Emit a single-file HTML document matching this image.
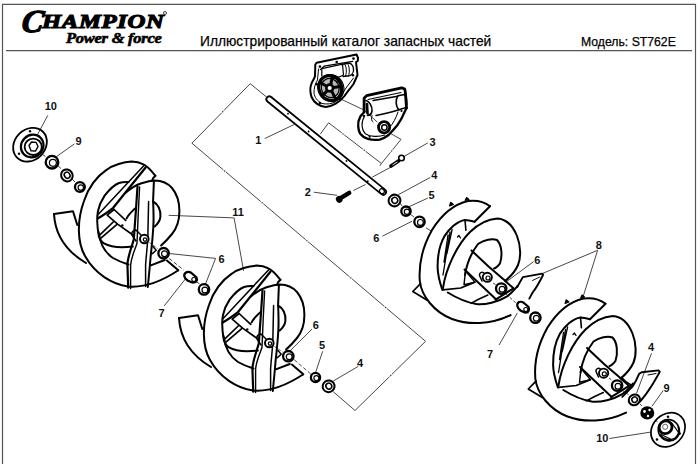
<!DOCTYPE html>
<html><head><meta charset="utf-8">
<style>
html,body{margin:0;padding:0;background:#fff;width:700px;height:464px;overflow:hidden}
svg{position:absolute;left:0;top:0;display:block}
</style></head>
<body>

<div style="position:absolute;left:0;top:0;width:700px;height:60px;font-family:'Liberation Sans',sans-serif;">
  <div id="logoC" style="position:absolute;left:20px;top:4.5px;-webkit-text-stroke:1.3px #000;font-family:'Liberation Serif',serif;font-weight:bold;font-style:italic;font-size:32px;line-height:32px;color:#000;transform-origin:0 100%;transform:skewX(-8deg)">C</div>
  <div id="logoH" style="position:absolute;left:42px;top:11.5px;-webkit-text-stroke:1.1px #000;font-family:'Liberation Serif',serif;font-weight:bold;font-style:italic;font-size:19px;line-height:19px;color:#000;transform-origin:0 0;transform:scaleX(1.30);letter-spacing:0.5px">HAMPION</div>
  <div style="position:absolute;left:163px;top:11px;width:4px;height:4px;border-radius:50%;border:0.8px solid #444;box-sizing:border-box"></div>
  <div id="logoP" style="position:absolute;left:66px;top:31.5px;-webkit-text-stroke:0.6px #000;font-family:'Liberation Serif',serif;font-weight:bold;font-style:italic;font-size:14px;line-height:14px;color:#000;transform-origin:0 0;transform:scaleX(1.175);letter-spacing:-0.2px">Power &amp; force</div>
  <div id="title" style="position:absolute;left:200px;top:33px;-webkit-text-stroke:0.25px #000;font-size:14.5px;line-height:16px;color:#000;transform-origin:0 0;transform:scaleX(0.95);white-space:nowrap">Иллюстрированный каталог запасных частей</div>
  <div id="model" style="position:absolute;left:581px;top:35px;-webkit-text-stroke:0.25px #000;font-size:13px;line-height:14px;color:#000;transform-origin:0 0;transform:scaleX(0.94);white-space:nowrap">Модель: ST762E</div>
</div>
<svg width="700" height="464" viewBox="0 0 700 464">
<defs>
<g id="aug11" fill="none" stroke="#000" stroke-width="2" stroke-linecap="round" stroke-linejoin="round">
  <!-- back flight -->
  <path d="M54,214 L73,211.3 L77.3,225"/>
  <path d="M54,214 C55,232 64,250 86,263"/>
  <!-- main ring outer -->
  <path d="M155.4,175.8 C151,170 147,166 143.4,164.3 C139,162 135,161.6 131.6,161.6 C124,162 113,165 106.8,169.7 C96,177 88,189 84,201 C77,220 77,242 85,256 C95,274 112,284 128,286.5 C145,288 162,281 178,270.5"/>
  <!-- tip -->
  <path d="M155.4,175.8 L153,178.3 L152,181"/>
  <!-- hole edge -->
  <path d="M128.5,182 C125,181.8 122,182 119,183 C114,185 109,190 104.6,195.6 C101,201 99,206 98,211 C97,216 96.8,224 98.6,234.5 C99.5,239 101.5,242 104,243.4 C112,248 124,247.5 132.8,246.5"/>
  <!-- lower band curve -->
  <path d="M98.5,232 C100,244 104,252 113,258 C120,262 127,264 128.5,264.5"/>
  <path d="M150.8,265.4 L164.8,260"/>
  <!-- cut at lower right -->
  <path d="M166.9,260.6 L178.3,270.3"/>
  <!-- blade -->
  <path d="M144,165.4 L97.7,215" stroke-width="1.5"/>
  <path d="M145.6,167.5 L113.2,207.8 C110,210.5 107,212.9 97.7,218.5" stroke-width="2.2"/>
  <!-- front flight outer -->
  <path d="M125.5,192.8 C131,188 136,185 141.5,183.2 C146,181.8 151,180.6 154.7,180.4 C161,180.5 167,182 172,188 C177,194 179.4,203 179.4,211 C179.4,220 177,228 172,234 C168,239 165,242 161.1,245.5"/>
  <!-- heart opening -->
  <path d="M153,201.5 C158,204 161,210 160.4,216.8 C160,221 157.5,224 154.7,226.5"/>
  <path d="M126.6,218.5 C128,215 130.5,212.9 134.8,208.6"/>
  <path d="M152.9,246.6 L156.2,250.3 L152.4,253.6" stroke-width="1.5"/>
  <!-- spoke bar -->
  <path d="M114.1,209.5 L125.7,220.3 M114.1,209.5 L107.2,215.1 L117.6,224.1 L132.2,234.5" stroke-width="1.7"/>
  <path d="M98.6,236.2 L113.2,222 M101.2,237.9 L116.7,224.6" stroke-width="1.7"/>
  <circle cx="122.3" cy="225.4" r="1.2" fill="#000" stroke="none"/>
  <!-- paddle -->
  <path d="M137.5,186.5 L136,209 L133.8,239.2 C132,247 129,252 127.4,263.5 L128.2,287.7" stroke-width="2.2"/>
  <path d="M139.6,187 L138.2,215 L137,243.3 C135,250 131.5,256 130.6,265.1 L130.6,288.5" stroke-width="1.4"/>
  <path d="M153.9,181.2 L153.1,200.7 C153.5,210 153.8,218 153.4,225 C152.8,238 151.5,248 150.5,258 C149.5,270 148.5,280 147.8,287"/>
  <path d="M148.6,201.5 C148.3,215 148,228 147.8,238.8 C147,250 146,258 145.6,265 L145.6,286.5" stroke-width="1.5"/>
  <!-- stub -->
  <path d="M141,235 L137,231 C135,229 131,231 132,235 L136,241" stroke-width="1.5"/>
  <circle cx="144.3" cy="239" r="4.3" fill="#fff"/>
  <circle cx="145" cy="239.6" r="1.7" stroke-width="1.2"/>
</g>
<g id="aug8" fill="none" stroke="#000" stroke-width="2" stroke-linecap="round" stroke-linejoin="round">
  <!-- back flight outer -->
  <path d="M490,206.2 C484,201.5 476,200 468,201 C455,204 442,214 432,230 C423,246 418.5,264 419.8,281 C421.5,296 434,312 452,319 C468,325 490,325 510.6,315.1"/>
  <!-- back flight cut -->
  <path d="M490,206.2 L474.5,221.7"/>
  <!-- back flight inner -->
  <path d="M474.5,221.7 C470,220.5 466,220 465,220 C457,221 449,229 444.3,236.4 C440,244 437.5,256 437.6,267.4 C437.8,276 440,283 442.4,290"/>
  <!-- teeth -->
  <path d="M449.6,206 L450.6,202.3 L453.4,204.5 Z M465.2,200.3 L466.6,197.6 L469,199.4 Z" stroke-width="1.2" fill="#000"/>
  <path d="M420.5,283.6 L412.8,291.5 L426.8,300" stroke-width="1.7"/>
  <!-- front flight outer -->
  <path d="M443,288 C446,268 457,245 470,232 C478,224 488,219 497.4,218.4 C506,219 513,226 517,236 C521,246 521,258 518,265 C515,272 510,277 505,281"/>
  <!-- front flight left edge and bottom -->

  <!-- front flight inner hole -->
  <path d="M465,275 C467,262 471.9,252 478,244 C484,240 492,238 497,240 C502,245 502.5,256 500,263.3 C498,266 496,268 494,268.4"/>
  <!-- inner hatches -->
  <path d="M465,220 L465.9,230.3" stroke-width="1.6"/>
  <path d="M452.1,229.5 L446.9,253.6 M448,235 L444,262 M450,232 L443,275" stroke-width="1.3"/>
  <path d="M457.5,237 L459,235.5 L460.5,238" stroke-width="1.3"/>
  <!-- paddle bar -->
  <path d="M471.5,250.5 L488.8,266.7 L504.6,280.2 L507.2,282.8 L513.5,288.3 L495.6,299.6"/>
  <path d="M464.5,269.5 L496.2,299.6"/>
  <path d="M465.5,271 L464,284.7 L474.9,282.1 Z" stroke-width="1.4"/>
  <path d="M443,289.9 L460.7,288 L474.9,282.1" stroke-width="1.7"/>
  <!-- lower inner curve -->
  <path d="M447.8,292.5 C455,297 465,302 476.2,304.1 C485,305 498,302 507.2,296.3 C512,293 515,289 517.5,286"/>
  <path d="M471,303.4 C475,301 482,297.5 487.8,295" stroke-width="1.6"/>
</g>
</defs>

<!-- frame -->
<path d="M2.5,464 L2.5,4.3 L695.5,4.3 L695.5,464" fill="none" stroke="#555" stroke-width="1.2"/>
<line x1="6" y1="50.6" x2="692" y2="50.6" stroke="#555" stroke-width="1.2"/>


<!-- leaders & dashed lines -->
<g fill="none" stroke="#333" stroke-width="0.9">
  <!-- big bracket -->
  <path d="M268.2,98.3 L250.2,83.7 M250.2,83.7 L223.8,110.6 M221.6,112.9 L191.9,143.2 M191.9,143.2 L223.4,169.9 M225.8,171.9 L260.8,201.6 M263.3,203.7 L305.7,239.7 M308.1,241.7 L349.7,276.9 M352.1,279.0 L384.4,306.4 M386.8,308.4 L425.6,341.3 M425.6,341.3 L391.8,374.4 M389.6,376.6 L355.0,410.5 M355.0,410.5 L333.3,391.7 M320.3,134.1 L328.6,122.8 M328.6,122.8 L341.8,132.9 M344.3,134.9 L363.0,149.3 M365.6,151.3 L381.4,163.5 M381.4,163.5 L390.6,152.2 M392.6,149.8 L401.0,139.4 M401.0,139.4 L390.4,133.4"/>
  <g fill="#333" stroke="none"><circle cx="222.7" cy="111.8" r="0.75"/><circle cx="224.6" cy="170.9" r="0.75"/><circle cx="262.1" cy="202.7" r="0.75"/><circle cx="306.9" cy="240.7" r="0.75"/><circle cx="350.9" cy="278.0" r="0.75"/><circle cx="385.6" cy="307.4" r="0.75"/><circle cx="390.7" cy="375.5" r="0.75"/><circle cx="343.0" cy="133.9" r="0.75"/><circle cx="364.3" cy="150.3" r="0.75"/><circle cx="391.6" cy="151.0" r="0.75"/></g>
  <!-- small bracket -->

  <path d="M381.4,163.5 L379.9,165.8"/>
  <!-- gearbox connectors -->
  <path d="M340,98.7 L364,110 L377.4,122.2"/>
  <!-- pin3 axis -->
  <path d="M391.9,166.6 L372.3,177.1"/>
  <path d="M353.4,190.5 L365.5,184.5"/>
  <!-- leaders -->
  <path d="M47.8,115.4 L37.7,134.2"/>
  <path d="M74.4,143.9 L56,157"/>
  <path d="M264.7,138.6 L294.4,124.4"/>
  <path d="M313.8,192.2 L337.1,195.3"/>
  <path d="M427.8,142.9 L403.6,156.7"/>
  <path d="M430.3,177.4 L398.4,194.7"/>
  <path d="M427.8,198.1 L407.1,207.6"/>
  <path d="M382.4,236.2 L412.1,221.2"/>
  <path d="M168.6,215.3 L234.1,217.9 L243.6,270.9"/>
  <path d="M170,253.6 L215.6,258.4 L204.9,285.5"/>
  <path d="M164.2,305.9 L185.5,278.8"/>
  <path d="M312,329 L289.5,351.4"/>
  <path d="M322.6,351.4 L315.5,372.8"/>
  <path d="M358.2,366.4 L333.3,381"/>
  <path d="M533.6,261.6 L506.9,281.4"/>
  <path d="M542.2,273.6 L597.6,250.3 L582.9,297.4"/>
  <path d="M499.1,345 L517.4,312.9"/>
  <path d="M651.5,353.3 L636.5,393.3"/>
  <path d="M663.1,390.7 L652,406.2"/>
  <path d="M609.4,438.5 L650.7,432.1"/>
  <!-- axis dashes -->
  <path d="M42.3,154.5 L45.5,156.4 M57,165 L61,168.5 M72,179 L75,182" />
  <path d="M169.1,258.4 L183.6,270 M196.2,281.7 L200.1,284.2" stroke-dasharray="4 2"/>
  <path d="M149.5,242.5 L157.5,248.5 M274.5,346.5 L282.5,352" stroke-dasharray="3 1.5"/>
  <path d="M294.2,359.7 L310.8,374" stroke-dasharray="4 2"/>
  <path d="M400,203 L402,206 M410,214 L414,217 M426,227.8 L431,231"/>
  <path d="M493,283 L497,285.5 M506,294 L516,303 M526,312 L531,314.5" stroke-dasharray="3 2"/>
  <path d="M609,378 L613,381 M622,390 L629,395 M640,404 L642,406 M655,420 L658,422" stroke-dasharray="3 2"/>
</g>


<!-- gearbox half 1 -->
<g fill="none" stroke="#000" stroke-linejoin="round" stroke-linecap="round">
  <path d="M316.6,62.8 L356.5,54.5 L358,57.8 L357.8,61 L356,62 L357.5,75 L353.5,84 C350,89 347,92 344.5,96 C340,102 332,106.5 325.7,106.9 C320,106.5 314,103 311.5,97 C310,92 310,88 311,85 C312,81 314.5,79 315,76 L315.3,64.5 Z" stroke-width="2"/>
  <path d="M320.3,69.6 L324.1,66.2 L352.7,61.3" stroke-width="1.2"/>
  <path d="M353.5,78 L346,88 C343,93 340,98 336,101.5 C332,104 327,104.5 322,103.5 C317,101 314.5,97 314,93 C314,88 315,84 317.5,80 L318.5,69" stroke-width="1"/>
  <path d="M321.8,76 L321.8,68.6 L342.5,64.2 L343.5,75 C340,77 333,79 326,80" stroke-width="1.2"/>
  <path d="M341.5,64.5 L349,63 C352,63.5 354,67 353.5,71 C353,74 350,76 347,76 L343,76.5" stroke-width="1.3"/>
  <path d="M344.5,64 C346.5,66 347,72 345.5,76 M347.5,63.5 C349.5,66 350,72 348.5,76" stroke-width="1"/>
  <ellipse cx="330.2" cy="88" rx="11.3" ry="12.6" transform="rotate(-25 330.2 88)" stroke-width="3.2"/>
  <ellipse cx="331.0" cy="88.5" rx="12.6" ry="13.6" transform="rotate(-25 330.2 88)" stroke-width="1.1"/>
  <ellipse cx="330.2" cy="88" rx="8.8" ry="9.8" transform="rotate(-25 330.2 88)" stroke-width="1.3" fill="#b8b8b8"/>
  <path d="M330.8,84.8 L332.0,77.7 M333.4,87.6 L340.6,86.5 M331.6,90.9 L334.8,97.4 M327.9,90.2 L322.6,95.3 M327.4,86.5 L320.9,83.1 " stroke-width="3"/>
  <circle cx="329.7" cy="88" r="3.4" stroke-width="2.6" fill="#fff"/>
  <g fill="#000" stroke="none">
    <circle cx="319.9" cy="66.6" r="1.3"/><circle cx="336.7" cy="62" r="1.3"/><circle cx="353.5" cy="58.6" r="1.3"/>
    <circle cx="352.9" cy="75.2" r="1.3"/><circle cx="339.9" cy="98.5" r="1.4"/><circle cx="319.9" cy="103" r="1.3"/><circle cx="316.6" cy="84.3" r="1.3"/>
  </g>
</g>
<!-- gearbox half 2 -->
<g fill="none" stroke="#000" stroke-linejoin="round" stroke-linecap="round">
  <path d="M364.1,112 L364.1,98.2 L366.6,95.6 L401.6,87.8 L404.8,89.1 L405.5,93.6 L406.5,108" stroke-width="2.8"/>
  <path d="M368,99.5 L401,92.5" stroke-width="1.1"/>
  <path d="M373.1,100.5 L397.7,96.2" stroke-width="1.5"/>
  <path d="M376,115.5 C382,114.5 390,112.5 399,109.8" stroke-width="1.5"/>
  <path d="M397.7,96.2 C395.5,99 395.5,107 399,109.8 M398,95.8 L404.5,94.5 C406.5,96 407.5,103 406,107.5 L399,109.8" stroke-width="1.6"/>
  <path d="M366,100.5 C369,101 372.5,106 372,111 C371.5,114 370,115.5 367.5,115.5" stroke-width="1.6"/>
  <path d="M367,104 L367.5,113.5" stroke-width="2.6"/>
  <path d="M364.1,112 C363,114 361,115 360.2,116.9 C358.5,120 357.8,123 358.2,126 C358.5,130 359,132 360.2,133.7 C362,136 365,138 367.9,138.9 C372,140 376,140 379.6,139.6 C384,138.5 386,137 388.6,135 C392,131.5 395,128 397.7,124.7 C400,121 402,118 402.9,115.6 L406.5,108" stroke-width="2.3"/>
  <path d="M364.7,115.6 C363,119 362,122 362.1,124.7 C362,129 363,131 365.3,133.7 C368,135.5 371,136.3 374.4,136.3 C379,136.5 382,136 384.8,135" stroke-width="1.2"/>
  <path d="M372,115.5 C371,119 371.5,121 373,122 M398,112 C396,118 393,124 389,128" stroke-width="1"/>
  <circle cx="384.1" cy="127.3" r="5.6" stroke-width="2.8"/>
  <circle cx="384.4" cy="127.5" r="2.7" stroke-width="1.5"/>
  <circle cx="363.8" cy="116" r="1.1" fill="#000" stroke="none"/>
  <circle cx="369.6" cy="136.8" r="1.1" fill="#000" stroke="none"/>
  <circle cx="401.5" cy="111" r="1.1" fill="#000" stroke="none"/>
</g>

<!-- shaft -->
<g fill="none" stroke="#000" stroke-linecap="round">
  <path d="M269.3,99.3 L383.2,191.9" stroke-width="7.6"/>
  <path d="M269.3,99.3 L383.2,191.9" stroke="#fff" stroke-width="4"/>
  <circle cx="288" cy="113.7" r="0.9" fill="#000" stroke="none"/>
  <circle cx="308.6" cy="131.5" r="0.9" fill="#000" stroke="none"/>
  <circle cx="346.5" cy="161" r="0.9" fill="#000" stroke="none"/>
  <circle cx="367.8" cy="181.2" r="0.9" fill="#000" stroke="none"/>
  <ellipse cx="381.9" cy="191.2" rx="2.2" ry="2.6" transform="rotate(-50 381.9 191.2)" stroke-width="1.2"/>
</g>

<!-- bolt 2 -->
<g>
  <path d="M341,197.8 L349.2,192.8" stroke="#000" stroke-width="4.4" stroke-linecap="round"/>
  <ellipse cx="339.2" cy="199.4" rx="3.2" ry="3.5" transform="rotate(-35 339.2 199.4)" fill="#000"/>
</g>

<!-- pin 3 -->
<g fill="none" stroke="#000">
  <circle cx="401.5" cy="158" r="2.8" stroke-width="1.6"/>
  <path d="M391,166 L398.5,161" stroke-width="3.6" stroke-linecap="round"/>
  <path d="M392.5,165 L397.5,161.8" stroke="#fff" stroke-width="0.9"/>
</g>

<!-- washers / nuts -->
<g fill="#fff" stroke="#000">
  <circle cx="52" cy="162.2" r="6.3" stroke-width="2.3"/>
  <circle cx="52.9" cy="162.8" r="3.5" stroke-width="1.2"/>
  <circle cx="79.9" cy="187" r="4.9" stroke-width="2.3"/>
  <circle cx="80.8" cy="187.6" r="2.7" stroke-width="1.2"/>
  <circle cx="163.6" cy="253.2" r="5.2" stroke-width="2.3"/>
  <circle cx="164.5" cy="253.8" r="2.9" stroke-width="1.2"/>
  <circle cx="204" cy="289.4" r="5.2" stroke-width="2.3"/>
  <circle cx="204.9" cy="290.0" r="2.9" stroke-width="1.2"/>
  <circle cx="288.3" cy="356.2" r="5.2" stroke-width="2.3"/>
  <circle cx="289.2" cy="356.8" r="2.9" stroke-width="1.2"/>
  <circle cx="315.5" cy="377.5" r="4.6" stroke-width="2.3"/>
  <circle cx="316.4" cy="378.1" r="2.5" stroke-width="1.2"/>
  <circle cx="406" cy="211.2" r="4.7" stroke-width="2.3"/>
  <circle cx="406.9" cy="211.8" r="2.6" stroke-width="1.2"/>
  <circle cx="419.5" cy="221.8" r="5.2" stroke-width="2.3"/>
  <circle cx="420.4" cy="222.4" r="2.9" stroke-width="1.2"/>
  <circle cx="501.2" cy="288.6" r="5.2" stroke-width="2.3"/>
  <circle cx="502.1" cy="289.2" r="2.9" stroke-width="1.2"/>
  <circle cx="535.4" cy="317.7" r="5.2" stroke-width="2.3"/>
  <circle cx="536.3" cy="318.3" r="2.9" stroke-width="1.2"/>
  <circle cx="617.1" cy="385.6" r="5.2" stroke-width="2.3"/>
  <circle cx="618.0" cy="386.2" r="2.9" stroke-width="1.2"/>
  <ellipse cx="66.9" cy="175.4" rx="5.6" ry="6.2" transform="rotate(-35 66.9 175.4)" stroke-width="2"/>
  <ellipse cx="67.2" cy="175.4" rx="2.7" ry="3.2" transform="rotate(-35 66.9 175.4)" stroke-width="1.5"/>
  <ellipse cx="328.6" cy="386.3" rx="6" ry="5.8" transform="rotate(-35 328.6 386.3)" stroke-width="2"/>
  <ellipse cx="328.9" cy="386.3" rx="2.9" ry="3.0" transform="rotate(-35 328.6 386.3)" stroke-width="1.5"/>
  <ellipse cx="394.5" cy="200.5" rx="6" ry="5.8" transform="rotate(-35 394.5 200.5)" stroke-width="2"/>
  <ellipse cx="394.8" cy="200.5" rx="2.9" ry="3.0" transform="rotate(-35 394.5 200.5)" stroke-width="1.5"/>
  <ellipse cx="634.4" cy="399.8" rx="5.8" ry="5.2" transform="rotate(-35 634.4 399.8)" stroke-width="2"/>
  <ellipse cx="634.7" cy="399.8" rx="2.8" ry="2.7" transform="rotate(-35 634.4 399.8)" stroke-width="1.5"/>
</g>

<!-- pins 7 -->
<g fill="#fff" stroke="#000" stroke-width="2.2">
  <path d="M186,272.5 C183,274.5 184,278 187.5,280.5 L192,282.5 C196,283 198,280.5 196.5,277.5 L191.5,273 C189.5,271.5 187.5,271.5 186,272.5 Z"/>
  <circle cx="193.8" cy="279.5" r="2" stroke-width="1.1"/>
  <path d="M519,302 C516,304 517,308 520.5,310.5 L524.5,312.5 C528.5,313 530,310 528.5,307 L524,303 C522,301.5 520.5,301.5 519,302 Z"/>
  <circle cx="525.8" cy="309.5" r="2" stroke-width="1.1"/>
</g>

<!-- nuts 9 -->
<g>
  <ellipse cx="647.3" cy="412.9" rx="7" ry="6.6" fill="#000"/>
  <circle cx="644.5" cy="411.5" r="1.4" fill="#fff"/>
  <circle cx="649.5" cy="410" r="1.2" fill="#fff"/>
  <circle cx="648" cy="416" r="1.2" fill="#fff"/>
</g>

<!-- flange 10 upper left -->
<g fill="none" stroke="#000">
  <ellipse cx="30" cy="144.7" rx="18.3" ry="15.3" transform="rotate(-45 30 144.7)" stroke-width="1.8"/>
  <circle cx="30" cy="131.2" r="1.2" fill="#000" stroke="none"/>
  <circle cx="19" cy="153.8" r="1.2" fill="#000" stroke="none"/>
  <ellipse cx="32.2" cy="146" rx="11.8" ry="10.8" transform="rotate(-45 32.2 146)" stroke-width="2.2"/>
  <ellipse cx="33.2" cy="146.8" rx="8.6" ry="8.2" stroke-width="1.8"/>
  <path d="M29,145.5 L31.5,142 L36,142.3 L38,146.5 L35.5,151 L31,150.8 Z" stroke-width="1.4"/>
</g>
<!-- flange 10 lower right -->
<g fill="none" stroke="#000">
  <ellipse cx="668" cy="429.8" rx="18.5" ry="15.5" transform="rotate(-45 668 429.8)" stroke-width="1.7"/>
  <circle cx="668" cy="416.8" r="1.3" fill="#000" stroke="none"/>
  <circle cx="657" cy="439.5" r="1.3" fill="#000" stroke="none"/>
  <circle cx="679.6" cy="433.6" r="1.3" fill="#000" stroke="none"/>
  <ellipse cx="668.8" cy="430.2" rx="10.3" ry="11" transform="rotate(-40 668.8 430.2)" stroke-width="1.6"/>
  <path d="M660.5,434.5 C663,439.5 670,441 675,438 C678,435.5 679.5,431 678,426.5" stroke-width="1.3"/>
  <path d="M671.5,422.5 L678.5,432.5 M660,434 L670.5,439" stroke-width="1.2"/>
  <ellipse cx="665.6" cy="427.3" rx="6.6" ry="6.2" transform="rotate(-40 665.6 427.3)" stroke-width="2.8"/>
  <circle cx="665.2" cy="426.8" r="2.6" stroke-width="1" stroke="#666"/>
</g>

<use href="#aug11"/>
<use href="#aug11" transform="translate(125,104)"/>
<use href="#aug8"/>
<g fill="none" stroke="#000" stroke-width="1.9" stroke-linecap="round" stroke-linejoin="round">
  <path d="M517.2,287 L522.8,277.1 L542.2,273.6 L543.1,274.9 C540,281 537,287 533,292 C531.5,294.5 530.5,296.5 529.3,298.6"/>
  <path d="M532.5,280.5 L539.6,277.1" stroke-width="0.9"/>
  <path d="M484,273 C482,271.5 479,272.5 479.5,275.5 L482,281" stroke-width="1.5"/>
  <circle cx="487.3" cy="277.3" r="4.6" fill="#fff"/>
  <circle cx="488" cy="278" r="2" stroke-width="1.2"/>
</g>
<use href="#aug8" transform="translate(115.5,97.5)"/>
<g fill="none" stroke="#000" stroke-width="1.9" stroke-linecap="round" stroke-linejoin="round">
  <path d="M622.3,396.8 C627,392 631,388 632.6,386.5 C635,383 637,379 639.1,373.9 L641.7,372.3 L658.5,370.4 L659.8,371.7 C657,377 654.5,381 652,385.2 C649,390 645,396 640,401.5"/>
  <path d="M621.7,377.5 L625.5,381.3 L631.3,385.2" stroke-width="1.6"/>
  <path d="M648,375 L656,373.5" stroke-width="1"/>
  <path d="M600.5,369 C598.5,367.5 595.5,368.5 596,371.5 L598.5,377" stroke-width="1.5"/>
  <circle cx="603.6" cy="373.2" r="4.6" fill="#fff"/>
  <circle cx="604.3" cy="373.9" r="2" stroke-width="1.2"/>
</g>

<g font-family="Liberation Sans, sans-serif" font-weight="bold" font-size="11" fill="#111">
  <text x="44.7" y="109.5">10</text>
  <text x="75.5" y="144.5">9</text>
  <text x="255.2" y="143.8">1</text>
  <text x="304.8" y="195.7">2</text>
  <text x="429.5" y="145.9">3</text>
  <text x="431.2" y="179.1">4</text>
  <text x="428.6" y="199">5</text>
  <text x="373.3" y="242.2">6</text>
  <text x="232.3" y="215.7">11</text>
  <text x="218.5" y="263.3">6</text>
  <text x="158.4" y="316.6">7</text>
  <text x="312.7" y="329">6</text>
  <text x="319.1" y="349.1">5</text>
  <text x="357" y="367.3">4</text>
  <text x="595.8" y="248.8">8</text>
  <text x="534.3" y="263.5">6</text>
  <text x="486.9" y="358.1">7</text>
  <text x="648.1" y="351.2">4</text>
  <text x="663.6" y="391.5">9</text>
  <text x="596.2" y="442.4">10</text>
</g>
</svg>
</body></html>
